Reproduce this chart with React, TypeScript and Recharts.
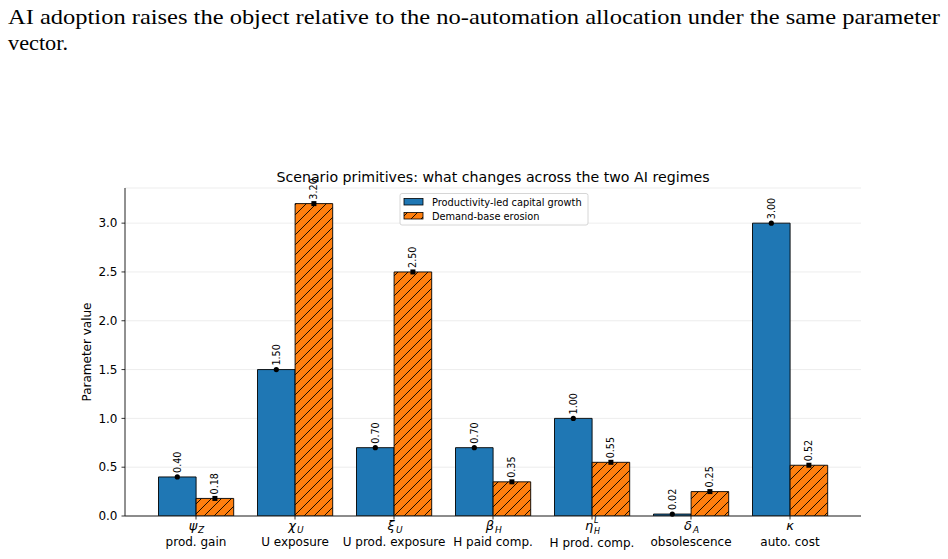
import React from "react";
import { BarChart, Bar, XAxis, YAxis, CartesianGrid, LabelList } from "recharts";

const symbols = ["ψ", "χ", "ξ", "β", "η", "δ", "κ"];
const subs = ["Z", "U", "U", "H", "H", "A", ""];
const sups = ["", "", "", "", "L", "", ""];
const descriptions = ["prod. gain", "U exposure", "U prod. exposure", "H paid comp.", "H prod. comp.", "obsolescence", "auto. cost"];
const productivity = [0.4, 1.5, 0.7, 0.7, 1.0, 0.02, 3.0];
const erosion = [0.18, 3.2, 2.5, 0.35, 0.55, 0.25, 0.52];
const yTicks = [0, 0.5, 1.0, 1.5, 2.0, 2.5, 3.0];
const seriesNames = ["Productivity-led capital growth", "Demand-base erosion"];

const data = descriptions.map((d, i) => ({
  name: d,
  idx: i,
  prod: productivity[i],
  eros: erosion[i],
}));

const FONT = "'DejaVu Sans', sans-serif";
const BLUE = "#1f77b4";
const ORANGE = "#ff7f0e";
const H = 10;

const XTick = (props: any) => {
  const { x, y, index } = props;
  const i = index as number;
  const hasSup = sups[i] !== "";
  const hasSub = subs[i] !== "";
  const letterX = hasSub ? x - 3 : x;
  const base = y + 13.5;
  return (
    <g fontFamily={FONT}>
      <line x1={x} x2={x} y1={y} y2={y + 3.5} stroke="#000" strokeWidth={0.8} />
      <text x={letterX} y={base} textAnchor="middle" fontSize={13} fontStyle="italic" fill="#000">
        {symbols[i]}
      </text>
      {hasSub && (
        <text x={letterX + 5} y={base + (hasSup ? 4 : 3)} textAnchor="start" fontSize={hasSup ? 8 : 9} fontStyle="italic" fill="#000">
          {subs[i]}
        </text>
      )}
      {hasSup && (
        <text x={letterX + 5} y={base - 6.5} textAnchor="start" fontSize={8} fontStyle="italic" fill="#000">
          {sups[i]}
        </text>
      )}
      <text x={x} y={y + (hasSup ? 31 : 29.5)} textAnchor="middle" fontSize={12} fill="#000">
        {descriptions[i]}
      </text>
    </g>
  );
};

const makeLabel = (square: boolean) => (props: any) => {
  const { x, y, width, value } = props;
  const cx = Number(x) + Number(width) / 2;
  const cy = Number(y);
  return (
    <g>
      {square ? (
        <rect x={cx - 2.5} y={cy - 2.5} width={5} height={5} fill="#000" />
      ) : (
        <circle cx={cx} cy={cy} r={2.6} fill="#000" />
      )}
      <text
        x={cx}
        y={cy - 4}
        transform={`rotate(-90 ${cx} ${cy - 4})`}
        textAnchor="start"
        dominantBaseline="central"
        fontSize={9.6}
        fontFamily={FONT}
        fill="#000"
      >
        {Number(value).toFixed(2)}
      </text>
    </g>
  );
};

export default function App() {
  return (
    <div style={{ position: "absolute", left: 0, top: 0, width: 948, height: 559, background: "#fff", overflow: "hidden" }}>
      <svg width={0} height={0} style={{ position: "absolute" }}>
        <defs>
          <pattern id="hatch" patternUnits="userSpaceOnUse" width={H} height={H}>
            <rect x={0} y={0} width={H} height={H} fill={ORANGE} />
            <path
              d={`M-1,${H + 1} L${H + 1},-1 M-2,2 L2,-2 M${H - 2},${H + 2} L${H + 2},${H - 2}`}
              stroke="#000"
              strokeWidth={0.9}
            />
          </pattern>
        </defs>
      </svg>
      <svg width={948} height={60} style={{ position: "absolute", left: 0, top: 0 }}>
        <text
          x={8}
          y={24}
          fontFamily="'Liberation Serif', serif"
          fontSize={22}
          fill="#000"
          textLength={932}
          lengthAdjust="spacingAndGlyphs"
        >
          AI adoption raises the object relative to the no-automation allocation under the same parameter
        </text>
        <text
          x={8}
          y={49.5}
          fontFamily="'Liberation Serif', serif"
          fontSize={22}
          fill="#000"
          textLength={60}
          lengthAdjust="spacingAndGlyphs"
        >
          vector.
        </text>
      </svg>
      <div style={{ position: "absolute", left: 0, top: 0 }}>
        <BarChart
          width={948}
          height={559}
          data={data}
          margin={{ top: 188, right: 87, bottom: 0, left: 0 }}
          barGap={0}
          barSize={37.6}
        >
          <CartesianGrid vertical={false} stroke="#e8e8e8" strokeWidth={0.8} />
          <XAxis
            dataKey="name"
            height={43}
            interval={0}
            padding={{ left: 21.5, right: 21.5 }}
            tickLine={false}
            tickSize={0}
            tickMargin={0}
            tick={<XTick />}
            axisLine={{ stroke: "#222", strokeWidth: 1 }}
          />
          <XAxis
            xAxisId="top"
            dataKey="name"
            orientation="top"
            height={0}
            tick={false}
            tickLine={false}
            axisLine={{ stroke: "#222", strokeWidth: 1 }}
            padding={{ left: 21.5, right: 21.5 }}
          />
          <YAxis
            width={125}
            domain={[0, 3.36]}
            ticks={yTicks}
            tickFormatter={(v: number) => v.toFixed(1)}
            tick={{ fontSize: 12, fontFamily: FONT, fill: "#000" }}
            tickLine={{ stroke: "#000", strokeWidth: 0.8 }}
            tickSize={3.5}
            tickMargin={4}
            axisLine={{ stroke: "#222", strokeWidth: 1 }}
            allowDataOverflow
          />
          <YAxis
            yAxisId="right"
            orientation="right"
            width={0}
            domain={[0, 3.36]}
            tick={false}
            tickLine={false}
            axisLine={{ stroke: "#222", strokeWidth: 1 }}
          />
          <Bar dataKey="prod" name={seriesNames[0]} fill={BLUE} stroke="#000" strokeWidth={0.9} isAnimationActive={false}>
            <LabelList dataKey="prod" content={makeLabel(false)} />
          </Bar>
          <Bar dataKey="eros" name={seriesNames[1]} fill="url(#hatch)" stroke="#000" strokeWidth={0.9} isAnimationActive={false}>
            <LabelList dataKey="eros" content={makeLabel(true)} />
          </Bar>
        </BarChart>
      </div>
      <svg width={948} height={559} style={{ position: "absolute", left: 0, top: 0, pointerEvents: "none" }}>
        <text x={493} y={182} textAnchor="middle" fontFamily={FONT} fontSize={14.2} fill="#000">
          Scenario primitives: what changes across the two AI regimes
        </text>
        <text
          x={87}
          y={352}
          transform="rotate(-90 87 352)"
          textAnchor="middle"
          dominantBaseline="central"
          fontFamily={FONT}
          fontSize={12}
          fill="#000"
        >
          Parameter value
        </text>
        <g fontFamily={FONT} fontSize={9.8}>
          <rect x={400} y={193.5} width={188} height={31.5} rx={2} fill="#fff" fillOpacity={0.8} stroke="#ccc" strokeWidth={0.8} />
          <rect x={404} y={198.5} width={19} height={6.5} fill={BLUE} stroke="#000" strokeWidth={0.8} />
          <text x={432} y={202} dominantBaseline="central" fill="#000">{seriesNames[0]}</text>
          <rect x={404} y={212.5} width={19} height={6.5} fill="url(#hatch)" stroke="#000" strokeWidth={0.8} />
          <text x={432} y={216} dominantBaseline="central" fill="#000">{seriesNames[1]}</text>
        </g>
      </svg>
    </div>
  );
}
